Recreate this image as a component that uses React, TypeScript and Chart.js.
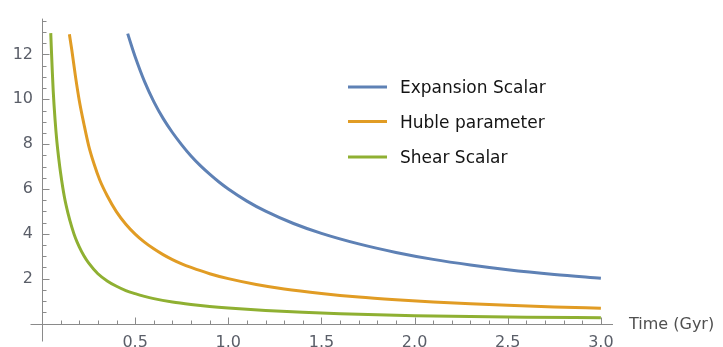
import React, { useEffect, useRef } from "react";
import { Chart, registerables } from "chart.js";

Chart.register(...registerables);

// ---- data ----
const expansionTime = [0.46, 0.48, 0.5, 0.55, 0.6, 0.65, 0.7, 0.75, 0.8, 0.85, 0.9, 0.95, 1.0, 1.1, 1.2, 1.35, 1.5, 1.7, 1.9, 2.1, 2.3, 2.5, 2.75, 3.0];
const expansionScalar = [12.93, 12.4, 11.9, 10.8, 9.9, 9.15, 8.52, 7.97, 7.47, 7.04, 6.66, 6.31, 6.0, 5.46, 5.01, 4.46, 4.02, 3.55, 3.17, 2.86, 2.61, 2.4, 2.19, 2.02];

const hubleTime = [0.147, 0.16, 0.18, 0.2, 0.225, 0.25, 0.28, 0.31, 0.35, 0.4, 0.45, 0.5, 0.55, 0.6, 0.65, 0.7, 0.75, 0.8, 0.9, 1.0, 1.15, 1.3, 1.5, 1.7, 1.9, 2.1, 2.3, 2.5, 2.75, 3.0];
const hubleParameter = [12.9, 12.2, 11.0, 9.95, 8.9, 7.95, 7.1, 6.4, 5.7, 4.98, 4.43, 3.99, 3.63, 3.33, 3.07, 2.85, 2.66, 2.5, 2.22, 2.0, 1.74, 1.54, 1.34, 1.18, 1.06, 0.96, 0.88, 0.81, 0.74, 0.68];

const shearTime = [0.047, 0.05, 0.055, 0.06, 0.07, 0.08, 0.09, 0.1, 0.12, 0.14, 0.16, 0.18, 0.2, 0.225, 0.25, 0.3, 0.35, 0.4, 0.45, 0.5, 0.55, 0.6, 0.7, 0.8, 0.9, 1.0, 1.2, 1.4, 1.6, 1.8, 2.0, 2.3, 2.6, 3.0];
const shearScalar = [12.95, 12.3, 11.3, 10.4, 9.1, 8.1, 7.35, 6.7, 5.65, 4.9, 4.3, 3.8, 3.42, 3.02, 2.7, 2.22, 1.9, 1.66, 1.47, 1.33, 1.21, 1.11, 0.96, 0.85, 0.76, 0.69, 0.58, 0.5, 0.44, 0.39, 0.35, 0.31, 0.28, 0.26];

const seriesNames = ["Expansion Scalar", "Huble parameter", "Shear Scalar"];
const seriesColors = ["#5E81B5", "#E19C24", "#8FB032"];
const xMajorTicks = [0.5, 1.0, 1.5, 2.0, 2.5, 3.0];
const yMajorTicks = [2, 4, 6, 8, 10, 12];
const xAxisTitle = "Time (Gyr)";

const FONT = "'DejaVu Sans', 'Liberation Sans', Arial, sans-serif";
const AXIS_COLOR = "#8a8a8a";
const LABEL_COLOR = "#5a5e68";

const toPoints = (t: number[], v: number[]) => t.map((x, i) => ({ x, y: v[i] }));

const axesPlugin = {
  id: "mmaAxes",
  beforeDatasetsDraw(chart: any) {
    const { ctx } = chart;
    const xs = chart.scales.x;
    const ys = chart.scales.y;
    const x0 = Math.round(xs.getPixelForValue(0)) + 0.5;
    const y0 = Math.round(ys.getPixelForValue(0)) + 0.5;
    ctx.save();
    ctx.strokeStyle = AXIS_COLOR;
    ctx.lineWidth = 1;
    ctx.beginPath();
    ctx.moveTo(x0 - 12, y0);
    ctx.lineTo(xs.right, y0);
    ctx.moveTo(x0, y0 + 17);
    ctx.lineTo(x0, ys.top);
    // x ticks every 0.1, major every 0.5
    for (let i = 1; i <= 30; i++) {
      const px = Math.round(xs.getPixelForValue(i / 10)) + 0.5;
      const len = i % 5 === 0 ? 7 : 4;
      ctx.moveTo(px, y0);
      ctx.lineTo(px, y0 - len);
    }
    // y ticks every 0.5, major every 2
    for (let i = 1; i <= 27; i++) {
      const py = Math.round(ys.getPixelForValue(i / 2)) + 0.5;
      const len = i % 4 === 0 ? 7 : 4;
      ctx.moveTo(x0, py);
      ctx.lineTo(x0 + len, py);
    }
    ctx.stroke();
    ctx.restore();
  },
  afterDraw(chart: any) {
    const { ctx } = chart;
    const xs = chart.scales.x;
    const ys = chart.scales.y;
    const y0 = ys.getPixelForValue(0);
    ctx.save();
    // axis title
    ctx.fillStyle = "#505050";
    ctx.font = `16px ${FONT}`;
    ctx.textAlign = "left";
    ctx.textBaseline = "middle";
    ctx.fillText(xAxisTitle, xs.right + 16, y0 + 1);
    // legend
    const lx = 348;
    const rows = [87, 121.5, 157];
    ctx.font = `17px ${FONT}`;
    seriesNames.forEach((name, i) => {
      ctx.strokeStyle = seriesColors[i];
      ctx.lineWidth = 3;
      ctx.beginPath();
      ctx.moveTo(lx, rows[i]);
      ctx.lineTo(lx + 39, rows[i]);
      ctx.stroke();
      ctx.fillStyle = "#141414";
      ctx.fillText(name, lx + 52, rows[i] + 2);
    });
    ctx.restore();
  },
};

export default function App() {
  const canvasRef = useRef<HTMLCanvasElement | null>(null);

  useEffect(() => {
    if (!canvasRef.current) return;
    const chart = new Chart(canvasRef.current, {
      type: "line",
      data: {
        datasets: [
          { label: seriesNames[0], data: toPoints(expansionTime, expansionScalar), borderColor: seriesColors[0] },
          { label: seriesNames[1], data: toPoints(hubleTime, hubleParameter), borderColor: seriesColors[1] },
          { label: seriesNames[2], data: toPoints(shearTime, shearScalar), borderColor: seriesColors[2] },
        ],
      },
      options: {
        animation: false,
        responsive: true,
        maintainAspectRatio: false,
        layout: { padding: { left: 0, right: 110, top: 10, bottom: 0 } },
        plugins: { legend: { display: false }, tooltip: { enabled: false } },
        elements: {
          point: { radius: 0 },
          line: { borderWidth: 3, cubicInterpolationMode: "monotone", fill: false },
        },
        scales: {
          x: {
            type: "linear",
            min: 0,
            max: 3.065,
            grid: { display: false, drawTicks: false },
            border: { display: false },
            afterBuildTicks: (s: any) => {
              s.ticks = xMajorTicks.map((v) => ({ value: v }));
            },
            afterFit: (s: any) => {
              s.height = 23.5;
            },
            ticks: {
              padding: 10,
              color: LABEL_COLOR,
              font: { family: FONT, size: 16 },
              autoSkip: false,
              maxRotation: 0,
              callback: (v: any) => Number(v).toFixed(1),
            },
          },
          y: {
            type: "linear",
            min: 0,
            max: 13.6,
            grid: { display: false, drawTicks: false },
            border: { display: false },
            afterBuildTicks: (s: any) => {
              s.ticks = yMajorTicks.map((v) => ({ value: v }));
            },
            afterFit: (s: any) => {
              s.width = 42;
            },
            ticks: {
              padding: 9,
              color: LABEL_COLOR,
              font: { family: FONT, size: 16 },
              callback: (v: any) => String(v),
            },
          },
        },
      },
      plugins: [axesPlugin],
    });
    return () => chart.destroy();
  }, []);

  return (
    <div style={{ position: "fixed", left: 0, top: 0, width: 723, height: 347, background: "#fff" }}>
      <canvas ref={canvasRef} />
    </div>
  );
}
